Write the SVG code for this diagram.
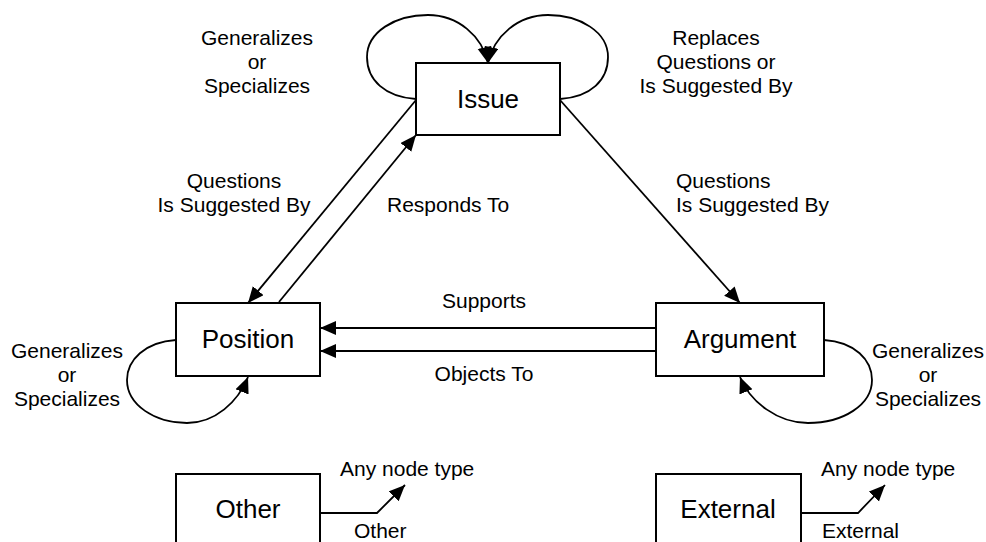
<svg xmlns="http://www.w3.org/2000/svg" width="986" height="542" viewBox="0 0 986 542">
  <style>
    .box { fill: #ffffff; stroke: #000000; stroke-width: 2; }
    .name { font-family: "Liberation Sans", Arial, sans-serif; font-size: 26px; fill: #000000; text-anchor: middle; }
    .lbl { font-family: "Liberation Sans", Arial, sans-serif; font-size: 21px; fill: #000000; }
    .mid { text-anchor: middle; }
    .edge { fill: none; stroke: #000000; stroke-width: 1.8; }
    .arr { marker-end: url(#arrow); }
  </style>
  <defs>
    <marker id="arrow" markerUnits="userSpaceOnUse" markerWidth="17" markerHeight="15" refX="16" refY="7" orient="auto">
      <path d="M0,0 L16,7 L0,14 z" fill="#000000"/>
    </marker>
  </defs>
  <rect width="986" height="542" fill="#ffffff"/>

  <!-- relationships between node types -->
  <g id="connectors">
    <!-- Issue self loops -->
    <path class="edge arr" d="M416,99 C385,97 367,80 367,57 C367,32 395,15 428,15 C458,15 482,36 488,63"/>
    <path class="edge arr" d="M560,99 C591,97 608,80 608,57 C608,32 580,15 548,15 C518,15 494,36 488,63"/>
    <!-- Issue to Position / Position to Issue -->
    <path class="edge arr" d="M416,100 L248,303"/>
    <path class="edge arr" d="M279,302 L416,135"/>
    <!-- Issue to Argument -->
    <path class="edge arr" d="M560,100 L740,303"/>
    <!-- Argument to Position -->
    <path class="edge arr" d="M656,328 L320,328"/>
    <path class="edge arr" d="M656,351 L320,351"/>
    <!-- Position self loop -->
    <path class="edge arr" d="M176,340 C145,342 127,360 127,380 C127,405 155,423 187,423 C215,423 238,402 248,377"/>
    <!-- Argument self loop -->
    <path class="edge arr" d="M824,340 C855,342 872,360 872,380 C872,405 843,423 808,423 C778,423 750,402 740,377"/>
    <!-- Other / External links -->
    <path class="edge arr" d="M320,513 L377,513 L405,485"/>
    <path class="edge arr" d="M801,513 L858,513 L885,485"/>
  </g>

  <g id="labels">
    <text class="lbl mid" x="257" y="45">Generalizes</text>
    <text class="lbl mid" x="257" y="69">or</text>
    <text class="lbl mid" x="257" y="93">Specializes</text>

    <text class="lbl mid" x="716" y="45">Replaces</text>
    <text class="lbl mid" x="716" y="69">Questions or</text>
    <text class="lbl mid" x="716" y="93">Is Suggested By</text>

    <text class="lbl mid" x="234" y="188">Questions</text>
    <text class="lbl mid" x="234" y="212">Is Suggested By</text>

    <text class="lbl" x="387" y="212">Responds To</text>

    <text class="lbl" x="676" y="188">Questions</text>
    <text class="lbl" x="676" y="212">Is Suggested By</text>

    <text class="lbl mid" x="484" y="308">Supports</text>
    <text class="lbl mid" x="484" y="381">Objects To</text>

    <text class="lbl mid" x="67" y="358">Generalizes</text>
    <text class="lbl mid" x="67" y="382">or</text>
    <text class="lbl mid" x="67" y="406">Specializes</text>

    <text class="lbl mid" x="928" y="358">Generalizes</text>
    <text class="lbl mid" x="928" y="382">or</text>
    <text class="lbl mid" x="928" y="406">Specializes</text>

    <text class="lbl" x="340" y="476">Any node type</text>
    <text class="lbl" x="354" y="538">Other</text>
    <text class="lbl" x="821" y="476">Any node type</text>
    <text class="lbl" x="822" y="538">External</text>
  </g>

  <g id="node-issue">
    <rect class="box" x="416" y="63" width="144" height="72"/>
    <text class="name" x="488" y="108">Issue</text>
  </g>
  <g id="node-position">
    <rect class="box" x="176" y="303" width="144" height="73"/>
    <text class="name" x="248" y="348">Position</text>
  </g>
  <g id="node-argument">
    <rect class="box" x="656" y="303" width="168" height="73"/>
    <text class="name" x="740" y="348">Argument</text>
  </g>
  <g id="node-other">
    <rect class="box" x="176" y="474" width="144" height="100"/>
    <text class="name" x="248" y="518">Other</text>
  </g>
  <g id="node-external">
    <rect class="box" x="656" y="474" width="145" height="100"/>
    <text class="name" x="728" y="518">External</text>
  </g>
</svg>
